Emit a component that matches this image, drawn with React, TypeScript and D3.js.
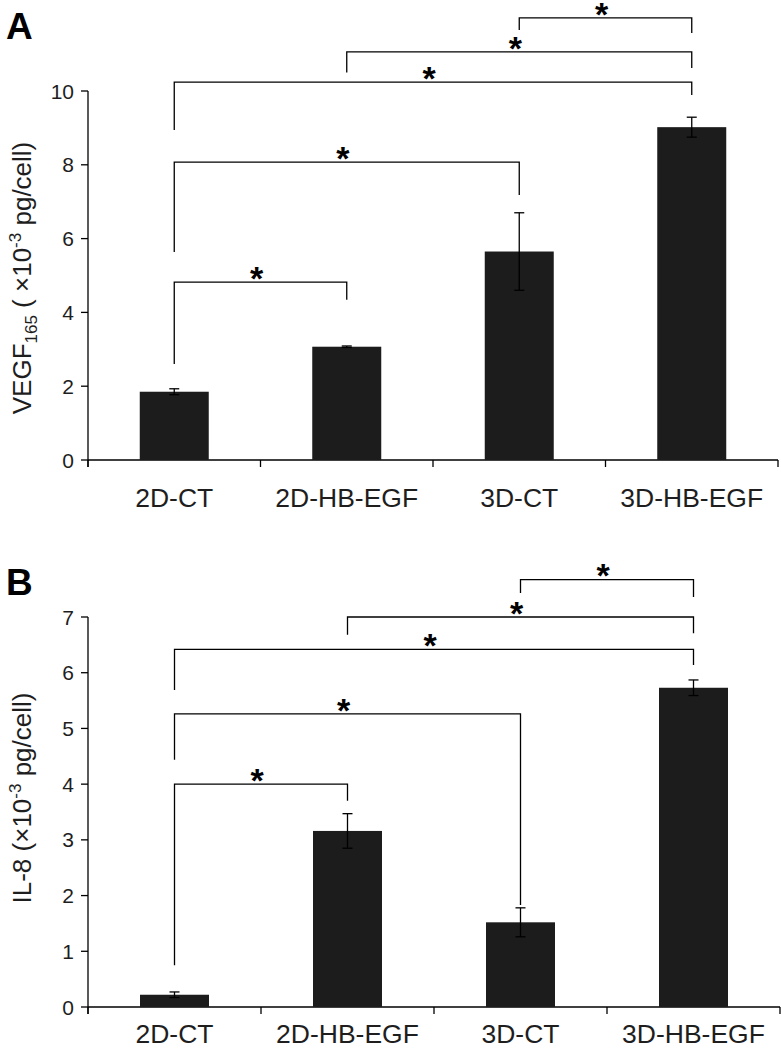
import React from 'react';
import * as d3 from 'd3';

const categories = ['2D-CT', '2D-HB-EGF', '3D-CT', '3D-HB-EGF'];

const vegfValues = [1.85, 3.07, 5.65, 9.02];
const vegfErrors = [0.08, 0.02, 1.05, 0.27];
const vegfTicks = [0, 2, 4, 6, 8, 10];
// [fromIndex, toIndex, bracketLevel, leftLegEnd, rightLegEnd] in data units
const vegfBrackets: number[][] = [
  [0, 1, 4.82, 2.6, 4.34],
  [0, 2, 8.07, 5.64, 7.18],
  [0, 3, 10.24, 8.94, 9.89],
  [1, 3, 11.06, 10.5, 10.62],
  [2, 3, 11.98, 11.65, 11.57],
];

const il8Values = [0.22, 3.16, 1.52, 5.73];
const il8Errors = [0.05, 0.31, 0.26, 0.14];
const il8Ticks = [0, 1, 2, 3, 4, 5, 6, 7];
const il8Brackets: number[][] = [
  [0, 1, 4.0, 0.75, 3.7],
  [0, 2, 5.26, 4.44, 1.83],
  [0, 3, 6.42, 5.69, 6.14],
  [1, 3, 7.0, 6.68, 6.71],
  [2, 3, 7.67, 7.43, 7.36],
];

const FONT = "'Liberation Sans', Arial, sans-serif";
const TEXT = '#1e1e1e';
const BAR = '#1c1c1c';

type PanelProps = {
  letter: string;
  letterY: number;
  values: number[];
  errors: number[];
  ticks: number[];
  brackets: number[][];
  yTop: number;
  yBottom: number;
  xRight: number;
  catLabelY: number;
  yLabel: React.ReactNode;
  yLabelCenter: number;
};

function Panel(p: PanelProps) {
  const x0 = 88;
  const yMax = p.ticks[p.ticks.length - 1];
  const y = d3.scaleLinear().domain([0, yMax]).range([p.yBottom, p.yTop]);
  const x = d3.scaleBand<string>().domain(categories).range([x0, p.xRight]).paddingInner(0).paddingOuter(0);
  const bw = 69;
  const cx = (i: number) => (x(categories[i]) as number) + x.bandwidth() / 2;
  const boundaries = [...categories.map((c) => x(c) as number), p.xRight];
  const starSize = 34;
  return (
    <g>
      <text x={6} y={p.letterY} fontFamily={FONT} fontWeight="bold" fontSize={37} fill="#000">
        {p.letter}
      </text>
      {/* y axis */}
      <line x1={x0} x2={x0} y1={y(yMax)} y2={p.yBottom + 7} stroke="#000" strokeWidth={1.3} />
      {p.ticks.map((t) => (
        <g key={t}>
          <line x1={x0 - 7} x2={x0} y1={y(t)} y2={y(t)} stroke="#000" strokeWidth={1.3} />
          <text x={x0 - 14} y={y(t) + 7.5} textAnchor="end" fontFamily={FONT} fontSize={21} fill={TEXT}>
            {t}
          </text>
        </g>
      ))}
      {/* x axis */}
      <line x1={x0} x2={p.xRight} y1={p.yBottom} y2={p.yBottom} stroke="#000" strokeWidth={1.3} />
      {boundaries.map((b, i) => (
        <line key={i} x1={b} x2={b} y1={p.yBottom} y2={p.yBottom + 7} stroke="#000" strokeWidth={1.3} />
      ))}
      {categories.map((c, i) => (
        <text key={c} x={cx(i)} y={p.catLabelY} textAnchor="middle" fontFamily={FONT} fontSize={26.5} fill={TEXT}>
          {c}
        </text>
      ))}
      {/* bars */}
      {p.values.map((v, i) => (
        <rect key={i} x={cx(i) - bw / 2} width={bw} y={y(v)} height={p.yBottom - y(v)} fill={BAR} />
      ))}
      {/* error bars */}
      {p.values.map((v, i) => {
        const lo = y(v - p.errors[i]);
        const hi = y(v + p.errors[i]);
        return (
          <g key={i} stroke="#000" strokeWidth={1.3}>
            <line x1={cx(i)} x2={cx(i)} y1={lo} y2={hi} />
            <line x1={cx(i) - 5} x2={cx(i) + 5} y1={lo} y2={lo} />
            <line x1={cx(i) - 5} x2={cx(i) + 5} y1={hi} y2={hi} />
          </g>
        );
      })}
      {/* significance brackets */}
      {p.brackets.map((b, i) => {
        const xa = cx(b[0]);
        const xb = cx(b[1]);
        const yl = y(b[2]);
        const path = d3.path();
        path.moveTo(xa, y(b[3]));
        path.lineTo(xa, yl);
        path.lineTo(xb, yl);
        path.lineTo(xb, y(b[4]));
        return (
          <g key={i}>
            <path d={path.toString()} fill="none" stroke="#000" strokeWidth={1.3} />
            <text x={(xa + xb) / 2 - 4} y={yl - 11 + starSize * 0.55} textAnchor="middle" fontFamily={FONT} fontWeight="bold" fontSize={starSize} fill="#000">
              *
            </text>
          </g>
        );
      })}
      {/* y label */}
      <text transform={`translate(31,${p.yLabelCenter}) rotate(-90)`} textAnchor="middle" fontFamily={FONT} fontSize={26} fill={TEXT}>
        {p.yLabel}
      </text>
    </g>
  );
}

export default function App() {
  return (
    <svg width={781} height={1049} style={{ position: 'absolute', left: 0, top: 0, background: '#fff' }}>
      <rect width={781} height={1049} fill="#fff" />
      <Panel
        letter="A"
        letterY={39}
        values={vegfValues}
        errors={vegfErrors}
        ticks={vegfTicks}
        brackets={vegfBrackets}
        yTop={91}
        yBottom={460}
        xRight={778}
        catLabelY={507}
        yLabelCenter={278}
        yLabel={
          <>
            <tspan>VEGF</tspan>
            <tspan fontSize={17} dy={6}>165</tspan>
            <tspan dy={-6}> ( ×10</tspan>
            <tspan fontSize={17} dy={-10}>-3</tspan>
            <tspan dy={10}> pg/cell)</tspan>
          </>
        }
      />
      <Panel
        letter="B"
        letterY={595}
        values={il8Values}
        errors={il8Errors}
        ticks={il8Ticks}
        brackets={il8Brackets}
        yTop={617}
        yBottom={1007}
        xRight={780}
        catLabelY={1043}
        yLabelCenter={798}
        yLabel={
          <>
            <tspan>IL-8 (×10</tspan>
            <tspan fontSize={17} dy={-10}>-3</tspan>
            <tspan dy={10}> pg/cell)</tspan>
          </>
        }
      />
    </svg>
  );
}
